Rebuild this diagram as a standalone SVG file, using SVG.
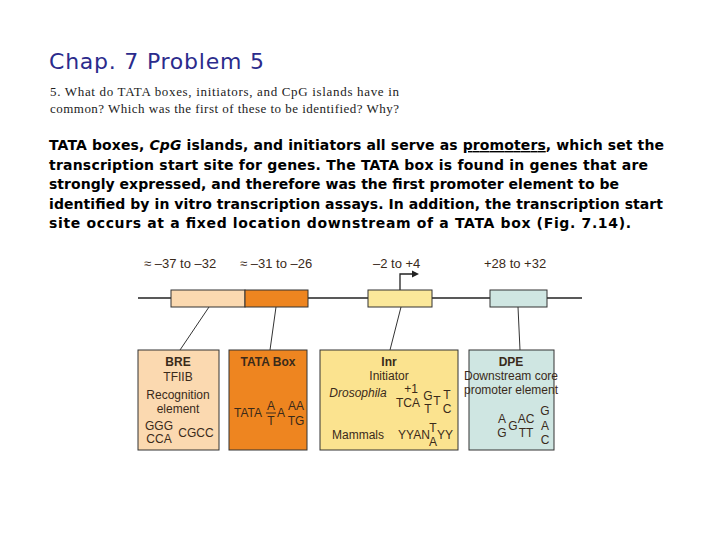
<svg xmlns="http://www.w3.org/2000/svg" width="720" height="540" viewBox="0 0 720 540">
<style>
.t{font-family:"Liberation Sans",Arial,sans-serif;fill:#3a2a1a}
.p{font-family:"DejaVu Sans",sans-serif;font-weight:bold;font-size:14px;fill:#000}
.q{font-family:"Liberation Serif",serif;font-size:13px;fill:#222}
.b{stroke:#333;stroke-width:1}
.c{stroke:#333;stroke-width:1;fill:none}
</style>
<rect width="720" height="540" fill="#fff"/>
<text x="49" y="69" font-family="Comic Sans MS,'DejaVu Sans',sans-serif" font-size="22" fill="#2b2b8c" textLength="215">Chap. 7 Problem 5</text>
<text class="q" x="50" y="96" textLength="349">5.  What do TATA boxes, initiators, and CpG islands have in</text>
<text class="q" x="50" y="113" textLength="349">common? Which was the first of these to be identified? Why?</text>
<g class="p">
<text x="49" y="150" textLength="615">TATA boxes, <tspan font-style="italic">CpG</tspan> islands, and initiators all serve as <tspan text-decoration="underline">promoters</tspan>, which set the</text>
<text x="49" y="170" textLength="599">transcription start site for genes. The TATA box is found in genes that are</text>
<text x="49" y="189" textLength="570">strongly expressed, and therefore was the first promoter element to be</text>
<text x="49" y="209" textLength="614">identified by in vitro transcription assays. In addition, the transcription start</text>
<text x="49" y="228" textLength="582">site occurs at a fixed location downstream of a TATA box (Fig. 7.14).</text>
</g>
<g id="connectors">
<line x1="138" y1="298" x2="582" y2="298" stroke="#222" stroke-width="1.5"/>
<line class="c" x1="209" y1="307" x2="180" y2="350"/>
<line class="c" x1="276" y1="307" x2="270" y2="350"/>
<line class="c" x1="401" y1="307" x2="390" y2="350"/>
<line class="c" x1="518" y1="307" x2="520" y2="350"/>
<path d="M400 290 V274 H414" fill="none" stroke="#222" stroke-width="1.3"/>
<path d="M419 274 L412 270.5 L412 277.5 Z" fill="#222"/>
</g>
<g class="t" font-size="13">
<text x="144" y="268">≈ –37 to –32</text>
<text x="240" y="268">≈ –31 to –26</text>
<text x="373" y="268">–2 to +4</text>
<text x="484" y="268">+28 to +32</text>
</g>
<g id="seg-bre"><rect class="b" x="171" y="290" width="74" height="17" fill="#fbd9b0"/></g>
<g id="seg-tata"><rect class="b" x="245" y="290" width="63" height="17" fill="#ee8520"/></g>
<g id="seg-inr"><rect class="b" x="368" y="290" width="64" height="17" fill="#fbe89a"/></g>
<g id="seg-dpe"><rect class="b" x="490" y="290" width="57" height="17" fill="#cfe6e2"/></g>
<g id="bre" class="t" font-size="12" text-anchor="middle">
<rect class="b" x="138" y="350" width="81" height="100" fill="#fbd9b0"/>
<text x="178" y="366" font-weight="bold">BRE</text>
<text x="178" y="381">TFIIB</text>
<text x="178" y="399">Recognition</text>
<text x="178" y="413">element</text>
<text x="159" y="430">GGG</text>
<text x="159" y="443">CCA</text>
<text x="196" y="437">CGCC</text>
</g>
<g id="tata" class="t" font-size="12" text-anchor="middle">
<rect class="b" x="229" y="350" width="78" height="100" fill="#ee8520"/>
<text x="268" y="366" font-weight="bold">TATA Box</text>
<text x="248" y="417">TATA</text>
<text x="271" y="410">A</text>
<line x1="266" y1="413" x2="276" y2="413" stroke="#3a2a1a"/>
<text x="271" y="425">T</text>
<text x="281" y="417">A</text>
<text x="296" y="410">AA</text>
<text x="296" y="425">TG</text>
</g>
<g id="inr" class="t" font-size="12" text-anchor="middle">
<rect class="b" x="320" y="350" width="138" height="100" fill="#fbe38f"/>
<text x="389" y="366" font-weight="bold">Inr</text>
<text x="389" y="380">Initiator</text>
<text x="358" y="397" font-style="italic">Drosophila</text>
<text x="411" y="393">+1</text>
<text x="408" y="407">TCA</text>
<text x="428" y="400">G</text>
<text x="428" y="413">T</text>
<text x="437" y="405">T</text>
<text x="447" y="399">T</text>
<text x="447" y="413">C</text>
<text x="358" y="439">Mammals</text>
<text x="414" y="439">YYAN</text>
<text x="433" y="432">T</text>
<text x="433" y="446">A</text>
<text x="445" y="439">YY</text>
</g>
<g id="dpe" class="t" font-size="12" text-anchor="middle">
<rect class="b" x="469" y="350" width="85" height="100" fill="#cfe6e2"/>
<text x="511" y="366" font-weight="bold">DPE</text>
<text x="511" y="380">Downstream core</text>
<text x="511" y="394">promoter element</text>
<text x="502" y="423">A</text>
<text x="502" y="437">G</text>
<text x="513" y="430">G</text>
<text x="526" y="423">AC</text>
<text x="526" y="437">TT</text>
<text x="545" y="415">G</text>
<text x="545" y="430">A</text>
<text x="545" y="444">C</text>
</g>
</svg>
